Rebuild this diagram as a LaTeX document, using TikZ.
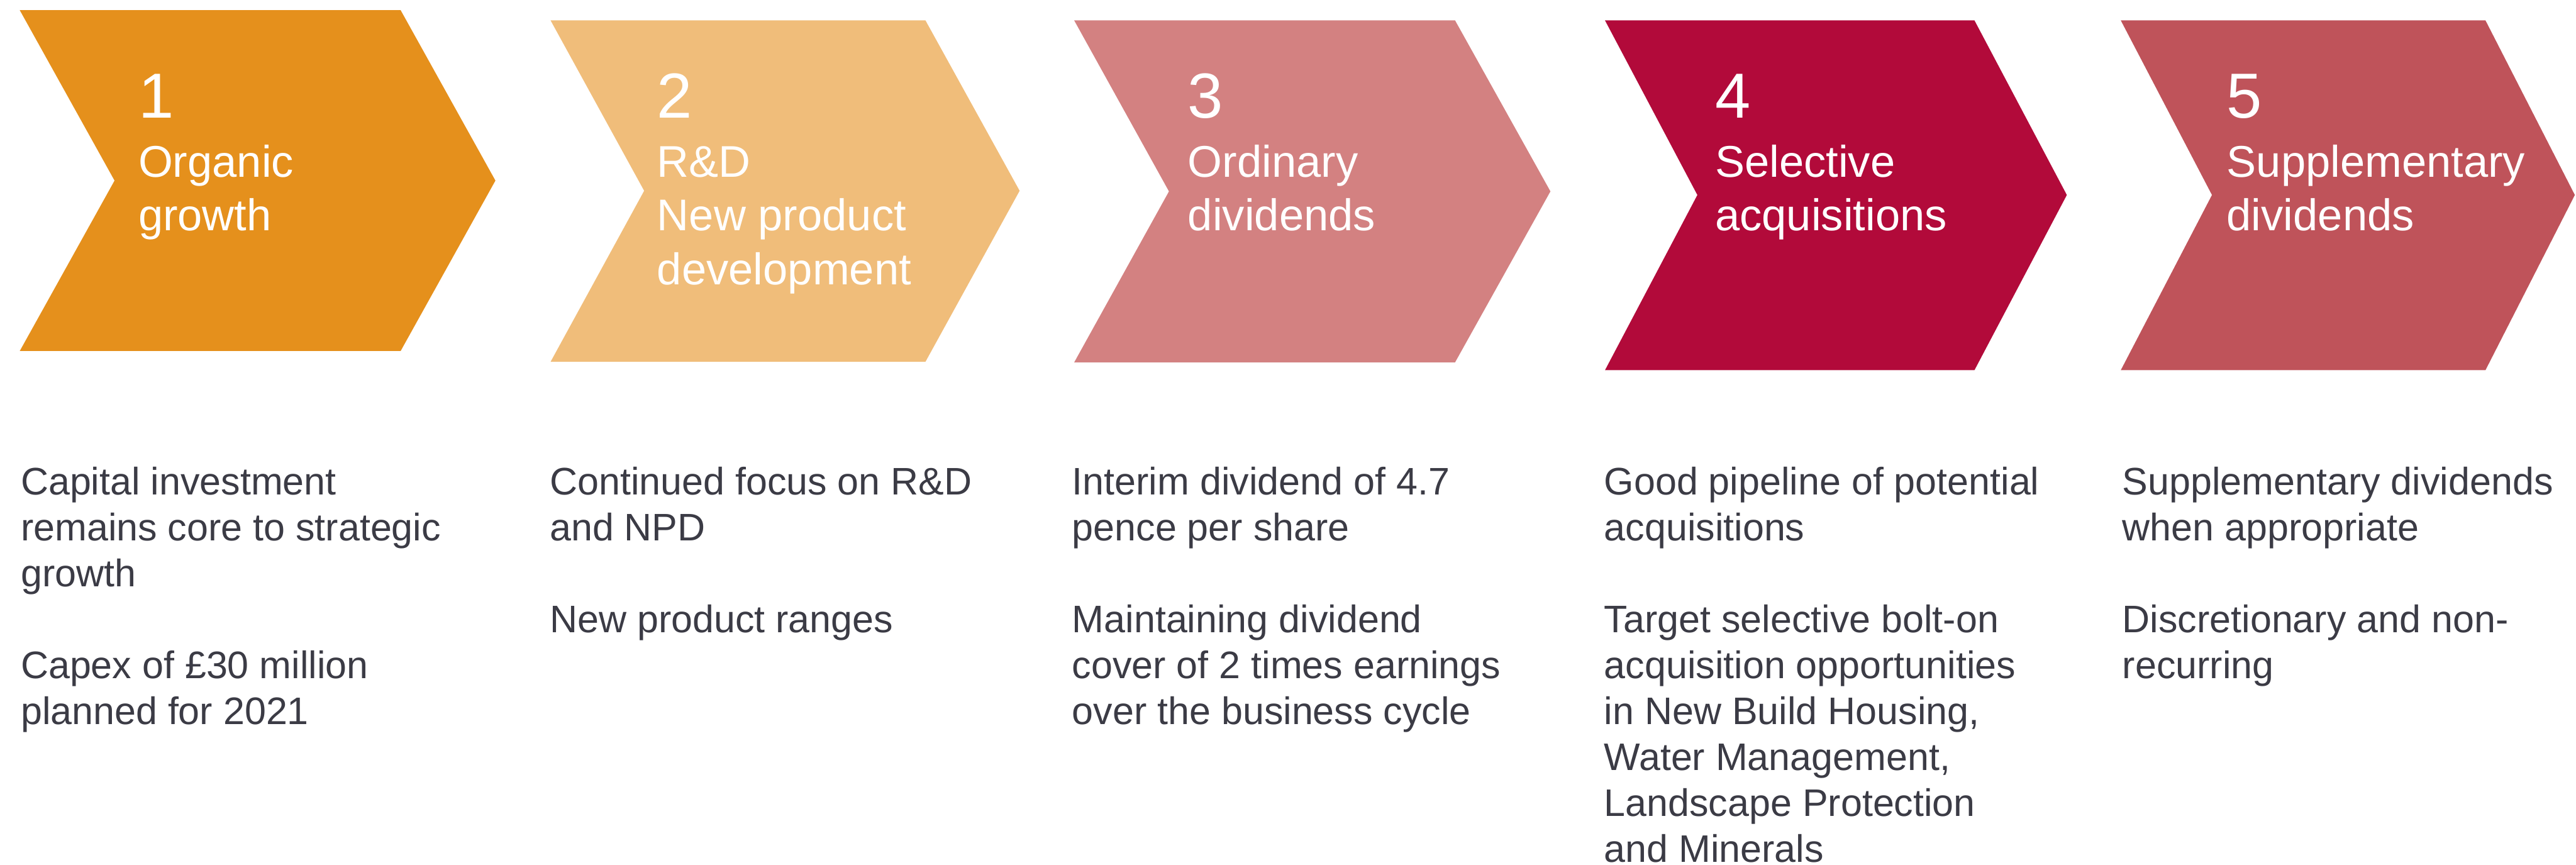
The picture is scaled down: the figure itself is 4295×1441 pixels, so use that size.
\documentclass[tikz,border=0pt]{standalone}
\usepackage{fontspec}
\setmainfont{Liberation Sans}
\usepackage{xcolor}
\usepackage{tikz}
\usetikzlibrary{positioning}

\definecolor{orgorange}{HTML}{E5901C}
\definecolor{rdtan}{HTML}{F0BD7A}
\definecolor{ordpink}{HTML}{D38181}
\definecolor{acqred}{HTML}{B20A3A}
\definecolor{suppred}{HTML}{BF535A}
\definecolor{bodygrey}{HTML}{3B3B45}

\begin{document}
\begin{tikzpicture}[x=0.1mm, y=-0.1mm,
    num/.style={anchor=base west, inner sep=0pt, text=white, font=\fontsize{30.2}{36}\selectfont},
    title/.style={inner sep=0pt, align=left, text=white, font=\fontsize{21.05}{25.47}\selectfont},
    body/.style={anchor=north west, inner sep=0pt, align=left, text=bodygrey, font=\fontsize{18.2}{21.77}\selectfont}]

    \useasboundingbox (0,0) rectangle (4295,1441);

    % chevrons
    \fill[orgorange] (33,17) -- (668,17) -- (826,301) -- (668,585) -- (33,585) -- (191,301) -- cycle;
    \fill[rdtan] (918,34) -- (1543,34) -- (1700,318) -- (1543,603) -- (918,603) -- (1074,318) -- cycle;
    \fill[ordpink] (1791,34) -- (2426,34) -- (2585,319) -- (2426,604) -- (1791,604) -- (1949,319) -- cycle;
    \fill[acqred] (2676,34) -- (3292,34) -- (3446,325) -- (3292,617) -- (2676,617) -- (2830,325) -- cycle;
    \fill[suppred] (3536,34) -- (4144,34) -- (4293,325) -- (4144,617) -- (3536,617) -- (3688,325) -- cycle;

    % numbers and headings
    \node [num] (n1) at (230,197) {1};
    \node [num] (n2) at (1095,197) {2};
    \node [num] (n3) at (1980,197) {3};
    \node [num] (n4) at (2859,197) {4};
    \node [num] (n5) at (3712,197) {5};

    \node [title, below=3.48mm of n1.base west, anchor=north west] (organic) {\strut Organic\\growth};
    \node [title, below=3.48mm of n2.base west, anchor=north west] (rnd) {\strut R\&D\\New product\\development};
    \node [title, below=3.48mm of n3.base west, anchor=north west] (ordinary) {\strut Ordinary\\dividends};
    \node [title, below=3.48mm of n4.base west, anchor=north west] (acquis) {\strut Selective\\acquisitions};
    \node [title, below=3.48mm of n5.base west, anchor=north west] (supp) {\strut Supplementary\\dividends};

    % text under each step
    \node [body] (organic-txt) at (34,770.5) {\strut Capital investment\\remains core to strategic\\growth\\[21.77pt]Capex of £30 million\\planned for 2021};
    \node [body] (rnd-txt) at (916,770.5) {\strut Continued focus on R\&D\\and NPD\\[21.77pt]New product ranges};
    \node [body] (ordinary-txt) at (1787,770.5) {\strut Interim dividend of 4.7\\pence per share\\[21.77pt]Maintaining dividend\\cover of 2 times earnings\\over the business cycle};
    \node [body] (acquis-txt) at (2674,770.5) {\strut Good pipeline of potential\\acquisitions\\[21.77pt]Target selective bolt-on\\acquisition opportunities\\in New Build Housing,\\Water Management,\\Landscape Protection\\and Minerals};
    \node [body] (supp-txt) at (3538,770.5) {\strut Supplementary dividends\\when appropriate\\[21.77pt]Discretionary and non-\\recurring};
\end{tikzpicture}
\end{document}
